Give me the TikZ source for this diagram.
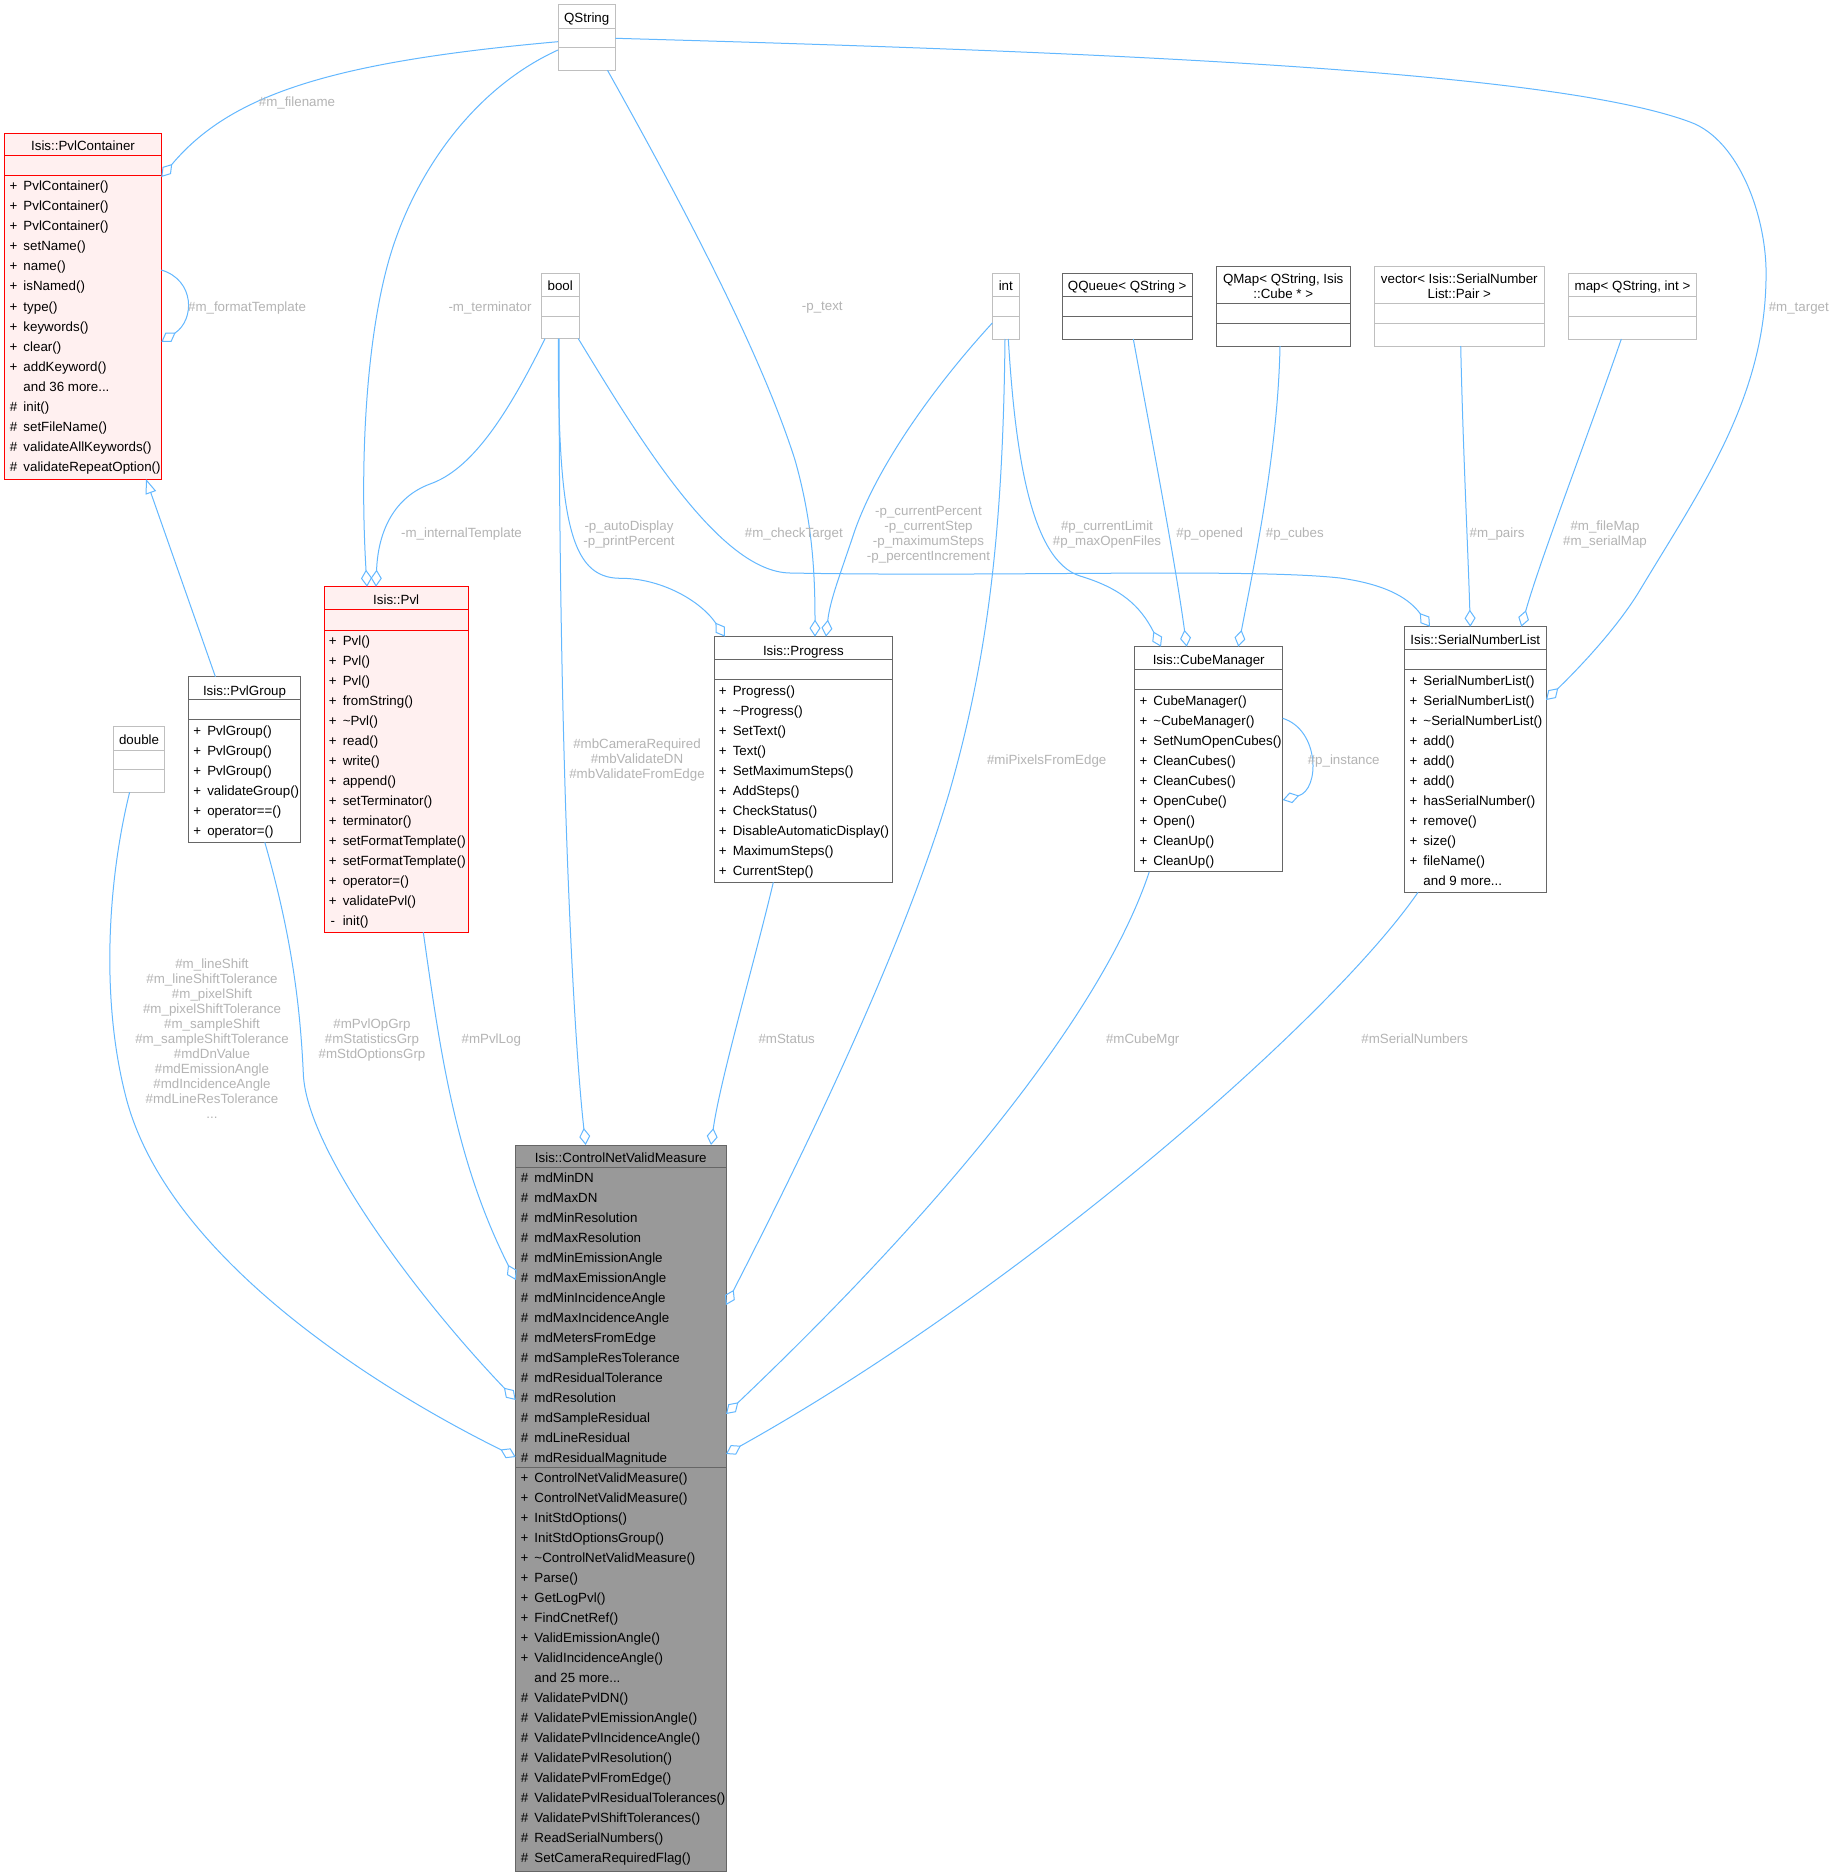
\documentclass[tikz,border=0pt]{standalone}
\usepackage{fontspec}
\setmainfont{Liberation Sans}
\usetikzlibrary{arrows.meta,calc}
\definecolor{edgeblue}{HTML}{63B8FF}
\definecolor{lightbd}{HTML}{BFBFBF}
\definecolor{darkbd}{HTML}{666666}
\definecolor{redbd}{HTML}{FF0000}
\definecolor{redfill}{HTML}{FFF0F0}
\definecolor{mainfill}{HTML}{999999}
\definecolor{lblgray}{HTML}{B4B4B4}
\newcommand\fs{\fontsize{10pt}{12pt}\selectfont}
\newcommand\ddd{...}
\newcommand\cbox[8]{%
  \node[#2, anchor=north west, minimum width={(#5-#3)*0.75pt}, minimum height={(#6-#4)*0.75pt}, inner sep=0pt, outer sep=0pt] (#1) at (#3,#4) {};
  \draw[#2, fill=none] ($(#1.north west)+(0,#7-#4)$) -- ($(#1.north east)+(0,#7-#4)$);
  \draw[#2, fill=none] ($(#1.north west)+(0,#8-#4)$) -- ($(#1.north east)+(0,#8-#4)$);
}
\newcommand\members[4]{%
  \foreach \mk/\tx [count=\i from 0] in {#4} {%
    \node[mem] (#1\i) at ({#2-1.5}, {#3+4.3+\i*20}) {\makebox[15pt][c]{\mk}\tx};
  }%
}
\newcommand\elabel[4]{%
  \foreach \lx [count=\i from 0] in {#4} {%
    \node[elbl] (#1\i) at (#2, {#3+4.3+\i*15}) {\lx};
  }%
}
\begin{document}
\begin{tikzpicture}[x=0.75pt, y=-0.75pt,
  agg/.style={draw=edgeblue, line width=0.75pt, -{Diamond[open,length=12.75pt,width=8.25pt]}},
  inh/.style={draw=edgeblue, line width=0.75pt, -{Triangle[open,length=11pt,width=8.25pt]}},
  bxl/.style={draw=lightbd, fill=white, line width=0.75pt},
  bxd/.style={draw=darkbd, fill=white, line width=0.75pt},
  bxr/.style={draw=redbd, fill=redfill, line width=0.75pt},
  bxm/.style={draw=darkbd, fill=mainfill, line width=0.75pt},
  mem/.style={anchor=base west, inner sep=0pt, font=\fs},
  ttl/.style={anchor=base, inner sep=0pt, font=\fs},
  elbl/.style={anchor=base, inner sep=0pt, font=\fs, text=lblgray}]
\fill[white] (0,0) rectangle (1833,1876);
\useasboundingbox (0,0) rectangle (1833,1876);

% ---------- class boxes ----------
\cbox{qstr}{bxl}{558}{5}{615.4}{70.3}{28.3}{47.7}
\node[ttl] (qstrt) at (586.7,22.6) {QString};

\cbox{pvlc}{bxr}{4.7}{133.3}{161.3}{479}{156}{176}
\node[ttl] (pvlct) at (83,151) {Isis::PvlContainer};
\members{pvlcm}{4.7}{186.7}{+/PvlContainer(),+/PvlContainer(),+/PvlContainer(),+/setName(),+/name(),+/isNamed(),+/type(),+/keywords(),+/clear(),+/addKeyword(),{}/and 36 more\ddd,\#/init(),\#/setFileName(),\#/validateAllKeywords(),\#/validateRepeatOption()}

\cbox{bool}{bxl}{541.5}{273}{579}{338.7}{296}{316}
\node[ttl] (boolt) at (560.2,291) {bool};

\cbox{int}{bxl}{992.3}{273.3}{1019.3}{339}{296.7}{316}
\node[ttl] (intt) at (1005.8,290.3) {int};

\cbox{qqueue}{bxd}{1062.3}{273.3}{1192}{339}{296.7}{316}
\node[ttl] (qqueuet) at (1127.2,290.3) {QQueue< QString >};

\cbox{qmap}{bxd}{1216.3}{266}{1350}{346}{303.3}{323.3}
\node[ttl] (qmapt1) at (1283.2,283.6) {QMap< QString, Isis};
\node[ttl] (qmapt2) at (1283.2,298.6) {::Cube * >};

\cbox{vec}{bxl}{1374.3}{266}{1544.3}{346}{303.3}{323.3}
\node[ttl] (vect1) at (1459.3,283.6) {vector< Isis::SerialNumber};
\node[ttl] (vect2) at (1459.3,298.6) {List::Pair >};

\cbox{map}{bxl}{1568.3}{273.3}{1696.7}{339}{296.7}{316}
\node[ttl] (mapt) at (1632.5,290.3) {map< QString, int >};

\cbox{pvl}{bxr}{324}{586.7}{468.4}{932.3}{609.3}{630}
\node[ttl] (pvlt) at (396.2,604.3) {Isis::Pvl};
\members{pvlm}{324}{640.7}{+/Pvl(),+/Pvl(),+/Pvl(),+/fromString(),+/\textasciitilde Pvl(),+/read(),+/write(),+/append(),+/setTerminator(),+/terminator(),+/setFormatTemplate(),+/setFormatTemplate(),+/operator=(),+/validatePvl(),-/init()}

\cbox{prog}{bxd}{714}{636.7}{892.7}{882.3}{659.3}{679.3}
\node[ttl] (progt) at (803.4,655) {Isis::Progress};
\members{progm}{714}{690.7}{+/Progress(),+/\textasciitilde Progress(),+/SetText(),+/Text(),+/SetMaximumSteps(),+/AddSteps(),+/CheckStatus(),+/DisableAutomaticDisplay(),+/MaximumSteps(),+/CurrentStep()}

\cbox{cm}{bxd}{1134.7}{646.7}{1282.7}{871.7}{669.3}{689.3}
\node[ttl] (cmt) at (1208.7,664.3) {Isis::CubeManager};
\members{cmm}{1134.7}{700.7}{+/CubeManager(),+/\textasciitilde CubeManager(),+/SetNumOpenCubes(),+/CleanCubes(),+/CleanCubes(),+/OpenCube(),+/Open(),+/CleanUp(),+/CleanUp()}

\cbox{snl}{bxd}{1404.7}{626.7}{1546}{892.3}{649.3}{669.3}
\node[ttl] (snlt) at (1475.3,644.3) {Isis::SerialNumberList};
\members{snlm}{1404.7}{680.7}{+/SerialNumberList(),+/SerialNumberList(),+/\textasciitilde SerialNumberList(),+/add(),+/add(),+/add(),+/hasSerialNumber(),+/remove(),+/size(),+/fileName(),{}/and 9 more\ddd}

\cbox{pg}{bxd}{188.5}{676.7}{300.4}{842.3}{699.7}{719.7}
\node[ttl] (pgt) at (244.5,695) {Isis::PvlGroup};
\members{pgm}{188.5}{730.7}{+/PvlGroup(),+/PvlGroup(),+/PvlGroup(),+/validateGroup(),+/operator==(),+/operator=()}

\cbox{dbl}{bxl}{113.8}{726.7}{164.4}{792.3}{750}{769.3}
\node[ttl] (dblt) at (139.1,744.3) {double};

\cbox{cnvm}{bxm}{515.7}{1145}{726}{1871}{1167.7}{1467.7}
\node[ttl] (cnvmt) at (620.8,1162.6) {Isis::ControlNetValidMeasure};
\members{cnvma}{515.7}{1178.3}{\#/mdMinDN,\#/mdMaxDN,\#/mdMinResolution,\#/mdMaxResolution,\#/mdMinEmissionAngle,\#/mdMaxEmissionAngle,\#/mdMinIncidenceAngle,\#/mdMaxIncidenceAngle,\#/mdMetersFromEdge,\#/mdSampleResTolerance,\#/mdResidualTolerance,\#/mdResolution,\#/mdSampleResidual,\#/mdLineResidual,\#/mdResidualMagnitude}
\members{cnvmm}{515.7}{1478.3}{+/ControlNetValidMeasure(),+/ControlNetValidMeasure(),+/InitStdOptions(),+/InitStdOptionsGroup(),+/\textasciitilde ControlNetValidMeasure(),+/Parse(),+/GetLogPvl(),+/FindCnetRef(),+/ValidEmissionAngle(),+/ValidIncidenceAngle(),{}/and 25 more\ddd,\#/ValidatePvlDN(),\#/ValidatePvlEmissionAngle(),\#/ValidatePvlIncidenceAngle(),\#/ValidatePvlResolution(),\#/ValidatePvlFromEdge(),\#/ValidatePvlResidualTolerances(),\#/ValidatePvlShiftTolerances(),\#/ReadSerialNumbers(),\#/SetCameraRequiredFlag()}

% ---------- connectors ----------
\draw[agg] ($(qstr.north west)+(0,36.7)$) .. controls (330,62) and (230,95) .. ($(pvlc.north east)+(0,43.7)$);
\draw[agg] ($(pvlc.north east)+(0,136.7)$) .. controls (195,280) and (195,320) .. ($(pvlc.north east)+(0,208.7)$);
\draw[agg] ($(qstr.north west)+(0,45)$) .. controls (470,90) and (410,180) .. (387,267) .. controls (365,350) and (360,470) .. ($(pvl.north west)+(43,0)$);
\draw[agg] ($(bool.south west)+(3.5,0)$) .. controls (505,420) and (470,470) .. (430,484) .. controls (395,497) and (378,530) .. ($(pvl.north west)+(52,0)$);
\draw[agg] ($(bool.south west)+(17.5,0)$) .. controls (559,800) and (575,1050) .. ($(cnvm.north west)+(70,0)$);
\draw[agg] ($(bool.south west)+(16.8,0)$) .. controls (558,520) and (570,578) .. (620,578.3) .. controls (660,578) and (700,600) .. ($(prog.north west)+(11,0)$);
\draw[agg] ($(bool.south east)+(-0.7,0)$) .. controls (640,440) and (720,572) .. (790,573) .. controls (1000,577) and (1250,568) .. (1340,578) .. controls (1390,585) and (1410,600) .. ($(snl.north west)+(25.3,0)$);
\draw[agg] ($(qstr.south east)+(-7.9,0)$) .. controls (680,200) and (760,350) .. (795,460) .. controls (812,520) and (815,570) .. ($(prog.north west)+(101,0)$);
\draw[agg] ($(int.north west)+(0,49.7)$) .. controls (940,380) and (880,460) .. (855,530) .. controls (840,575) and (830,600) .. ($(prog.north west)+(112,0)$);
\draw[agg] ($(int.south west)+(12.7,0)$) .. controls (1003,520) and (990,650) .. (950,790) .. controls (900,960) and (790,1180) .. ($(cnvm.north east)+(0,160)$);
\draw[agg] ($(int.south west)+(16,0)$) .. controls (1015,450) and (1030,560) .. (1080,576) .. controls (1120,588) and (1140,605) .. ($(cm.north west)+(26.3,0)$);
\draw[agg] ($(qqueue.south west)+(71,0)$) .. controls (1150,430) and (1175,560) .. ($(cm.north west)+(52,0)$);
\draw[agg] ($(qmap.south west)+(63.7,0)$) .. controls (1278,450) and (1255,560) .. ($(cm.north west)+(103.6,0)$);
\draw[agg] ($(vec.south west)+(86.4,0)$) .. controls (1463,450) and (1468,550) .. ($(snl.north west)+(65.6,0)$);
\draw[agg] ($(map.south west)+(53,0)$) .. controls (1590,430) and (1540,560) .. ($(snl.north west)+(116.6,0)$);
\draw[agg] ($(qstr.north east)+(0,33.3)$) .. controls (1100,52) and (1550,70) .. (1690,122) .. controls (1740,140) and (1768,220) .. (1766,280) .. controls (1764,400) and (1700,490) .. (1640,590) .. controls (1616,630) and (1575,672) .. ($(snl.north east)+(0,73.3)$);
\draw[agg] ($(cm.north east)+(0,71.6)$) .. controls (1320,730) and (1320,790) .. ($(cm.north east)+(0,153.3)$);
\draw[agg] ($(prog.south west)+(59.3,0)$) .. controls (755,960) and (720,1080) .. ($(cnvm.north west)+(195.3,0)$);
\draw[agg] ($(cm.south west)+(14.6,0)$) .. controls (1100,1020) and (930,1220) .. ($(cnvm.north east)+(0,269)$);
\draw[agg] ($(snl.south west)+(13.3,0)$) .. controls (1330,1020) and (1020,1290) .. ($(cnvm.north east)+(0,309)$);
\draw[agg] ($(pvl.south west)+(99.3,0)$) .. controls (440,1050) and (455,1160) .. ($(cnvm.north west)+(0,135)$);
\draw[agg] ($(pg.south west)+(76.3,0)$) .. controls (290,930) and (300,1000) .. (303.3,1073.3) .. controls (306,1150) and (420,1300) .. ($(cnvm.north west)+(0,255)$);
\draw[agg] ($(dbl.south west)+(15.8,0)$) .. controls (108,880) and (100,1000) .. (126.7,1100) .. controls (170,1260) and (380,1390) .. ($(cnvm.north west)+(0,312)$);
\draw[inh] ($(pg.north west)+(26.9,0)$) -- ($(pvlc.south west)+(141.3,0)$);

% ---------- connector labels ----------
\elabel{la}{297}{102.7}{\#m\_filename}
\elabel{lb}{247}{306.7}{\#m\_formatTemplate}
\elabel{lc}{490}{306.7}{-m\_terminator}
\elabel{ld}{461.5}{533.3}{-m\_internalTemplate}
\elabel{le}{637}{744.3}{\#mbCameraRequired,\#mbValidateDN,\#mbValidateFromEdge}
\elabel{lf}{629}{525.7}{-p\_autoDisplay,-p\_printPercent}
\elabel{lg}{793.8}{533.3}{\#m\_checkTarget}
\elabel{lh}{822.3}{306.5}{-p\_text}
\elabel{li}{928.5}{510.7}{-p\_currentPercent,-p\_currentStep,-p\_maximumSteps,-p\_percentIncrement}
\elabel{lj}{1046.7}{760}{\#miPixelsFromEdge}
\elabel{lk}{1107}{525.7}{\#p\_currentLimit,\#p\_maxOpenFiles}
\elabel{ll}{1209.7}{533.3}{\#p\_opened}
\elabel{lm}{1294.8}{533.3}{\#p\_cubes}
\elabel{ln}{1497}{533.3}{\#m\_pairs}
\elabel{lo}{1605}{525.7}{\#m\_fileMap,\#m\_serialMap}
\elabel{lp}{1798.8}{306.7}{\#m\_target}
\elabel{lq}{1343.7}{760}{\#p\_instance}
\elabel{lr}{786.7}{1039.3}{\#mStatus}
\elabel{ls}{1142.7}{1039.3}{\#mCubeMgr}
\elabel{lt}{1414.7}{1039.3}{\#mSerialNumbers}
\elabel{lu}{491.3}{1039.3}{\#mPvlLog}
\elabel{lv}{372}{1024.3}{\#mPvlOpGrp,\#mStatisticsGrp,\#mStdOptionsGrp}
\elabel{lw}{212}{964.3}{\#m\_lineShift,\#m\_lineShiftTolerance,\#m\_pixelShift,\#m\_pixelShiftTolerance,\#m\_sampleShift,\#m\_sampleShiftTolerance,\#mdDnValue,\#mdEmissionAngle,\#mdIncidenceAngle,\#mdLineResTolerance,\ddd}
\end{tikzpicture}
\end{document}
